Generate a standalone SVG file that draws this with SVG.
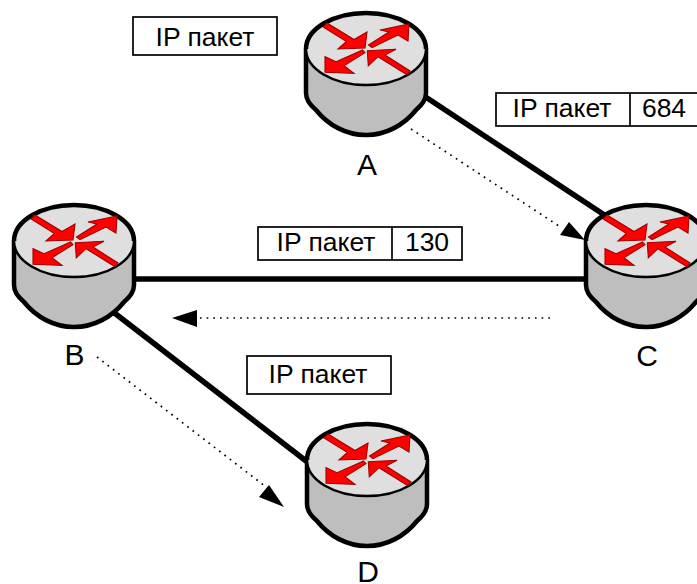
<svg xmlns="http://www.w3.org/2000/svg" xmlns:xlink="http://www.w3.org/1999/xlink" width="697" height="584" viewBox="0 0 697 584">
<style>
.t{font-family:"Liberation Sans",Arial,sans-serif;fill:#000}
.lb{font-size:26.500px;text-anchor:middle}
.n{font-size:30px;text-anchor:middle}
.box{fill:#fff;stroke:#000;stroke-width:1.7}
.link{stroke:#000;stroke-width:5.5;fill:none}
.dot{stroke:#000;stroke-width:1.7;fill:none;stroke-dasharray:1.7 5}
.ar{fill:#f00;stroke:#a00000;stroke-width:1.1;stroke-linejoin:miter}
</style>
<defs>
<g id="router">
<path d="M-60 0V44C-60 50-56 56-50 61C-38 76-20 86 0 86C20 86 38 76 50 61C56 56 60 50 60 44V0Z" fill="#bebebe" stroke="#000" stroke-width="4.5" stroke-linejoin="round"/>
<ellipse cx="0" cy="0" rx="60" ry="36" fill="#dfdfdf" stroke="#000" stroke-width="2.5"/>
<path d="M-60 0A60 36 0 0 1 60 0" fill="none" stroke="#000" stroke-width="4.5"/>
<polygon class="ar" points="-39,-26 -43,-22 -19.5,-7.5 -28,0 -1,-1 1,-17 -12,-9.5"/>
<polygon class="ar" points="2.5,-4 23,-17 14,-19 43,-25 42,-8 32,-14 6,-1.5"/>
<polygon class="ar" points="-3.3,1 -1,3.7 -22,16.7 -12,24.3 -41,23.3 -41,7.7 -30,12.7"/>
<polygon class="ar" points="1.3,1.7 30,.3 19,6 44,22 41,25.7 12,7.7 2.3,16.7"/>
</g>
</defs>
<rect width="697" height="584" fill="#fff"/>
<g id="connectors">
<path class="link" d="M415 90L612 220"/>
<path class="link" d="M130 279H590"/>
<path class="link" d="M108 308L310 464"/>
<path class="dot" d="M411 129L562 228"/>
<polygon points="585,240 560,235 569,222"/>
<path class="dot" d="M550 318H194"/>
<polygon points="172,318 197,310 197,327"/>
<path class="dot" d="M97 357L270 490"/>
<polygon points="284,507 259,497 269,485"/>
</g>
<g id="node-A"><use xlink:href="#router" href="#router" x="366" y="49"/><text class="t n" x="367" y="175">A</text></g>
<g id="node-B"><use xlink:href="#router" href="#router" x="74" y="241"/><text class="t n" x="74.500" y="365">B</text></g>
<g id="node-C"><use xlink:href="#router" href="#router" x="646" y="241"/><text class="t n" x="647" y="366">C</text></g>
<g id="node-D"><use xlink:href="#router" href="#router" x="367" y="460"/><text class="t n" x="368" y="582">D</text></g>
<g id="label-1"><rect class="box" x="133" y="17" width="144" height="38"/><text class="t lb" x="205" y="46">IP пакет</text></g>
<g id="label-2"><rect class="box" x="496" y="93" width="202" height="33"/><path class="box" d="M630 93V126"/><text class="t lb" x="562" y="117">IP пакет</text><text class="t lb" x="664" y="117">684</text></g>
<g id="label-3"><rect class="box" x="258" y="227" width="204" height="33"/><path class="box" d="M392 227V260"/><text class="t lb" x="326" y="251">IP пакет</text><text class="t lb" x="427" y="251">130</text></g>
<g id="label-4"><rect class="box" x="247" y="356" width="144" height="38"/><text class="t lb" x="318" y="383">IP пакет</text></g>
</svg>
